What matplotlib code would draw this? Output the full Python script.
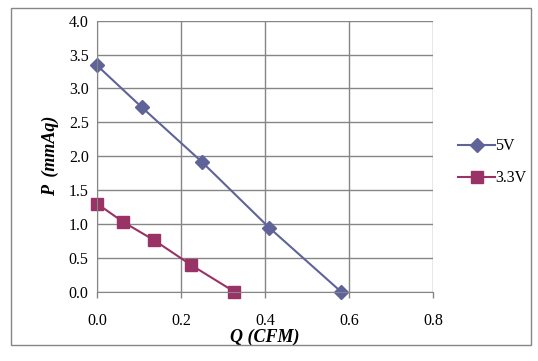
import matplotlib.pyplot as plt
from matplotlib.patches import Rectangle

# Fan curve: static pressure vs. air flow
q_5v = [0.0, 0.107, 0.249, 0.41, 0.581]
p_5v = [3.34, 2.72, 1.92, 0.945, 0.0]

q_33v = [0.0, 0.062, 0.136, 0.225, 0.327]
p_33v = [1.30, 1.03, 0.76, 0.39, 0.0]

x_ticks = [0.0, 0.2, 0.4, 0.6, 0.8]
y_ticks = [0.0, 0.5, 1.0, 1.5, 2.0, 2.5, 3.0, 3.5, 4.0]

plt.rcParams['font.family'] = ['Liberation Serif', 'DejaVu Serif']
grid_c = '#868686'

fig = plt.figure(figsize=(5.38, 3.61), dpi=100)
fig.patches.append(Rectangle((0.0204, 0.0443), 0.9666, 0.9337, transform=fig.transFigure,
                             fill=False, edgecolor=grid_c, linewidth=1.0))
ax = fig.add_axes([0.1803, 0.192, 0.6245, 0.7507])

l1, = ax.plot(q_5v, p_5v, color='#5F6398', linewidth=1.5, marker='D', markersize=7,
              markerfacecolor='#5F6398', markeredgecolor='#5F6398', label='5V', clip_on=False)
l2, = ax.plot(q_33v, p_33v, color='#993366', linewidth=1.5, marker='s', markersize=8,
              markerfacecolor='#993366', markeredgecolor='#993366', label='3.3V', clip_on=False)

ax.set_xlim(0, 0.8)
ax.set_ylim(0, 4.0)
ax.set_xticks(x_ticks)
ax.set_yticks(y_ticks)
ax.set_xticklabels([f"{v:.1f}" for v in x_ticks])
ax.set_yticklabels([f"{v:.1f}" for v in y_ticks])
ax.grid(True, color=grid_c, linewidth=1.0)
ax.set_axisbelow(True)
for s in ax.spines.values():
    s.set_visible(False)
ax.spines['left'].set_visible(True)
ax.spines['bottom'].set_visible(True)
ax.spines['left'].set_color(grid_c)
ax.spines['bottom'].set_color(grid_c)
ax.tick_params(axis='both', colors=grid_c, labelcolor='black', labelsize=11.5, length=4, width=1)
ax.tick_params(axis='y', length=0, pad=6)
ax.tick_params(axis='x', pad=11)

ax.set_xlabel('Q (CFM)', fontsize=13, fontweight='bold', fontstyle='italic', labelpad=0)
ax.set_ylabel('P  (mmAq)', fontsize=13, fontweight='bold', fontstyle='italic', labelpad=7)

fig.legend(handles=[l1, l2], loc='center left', bbox_to_anchor=(0.825, 0.55), frameon=False,
           fontsize=11.5, handlelength=2.3, handletextpad=0.0, labelspacing=1.0)

fig.savefig('out.png', dpi=100)
